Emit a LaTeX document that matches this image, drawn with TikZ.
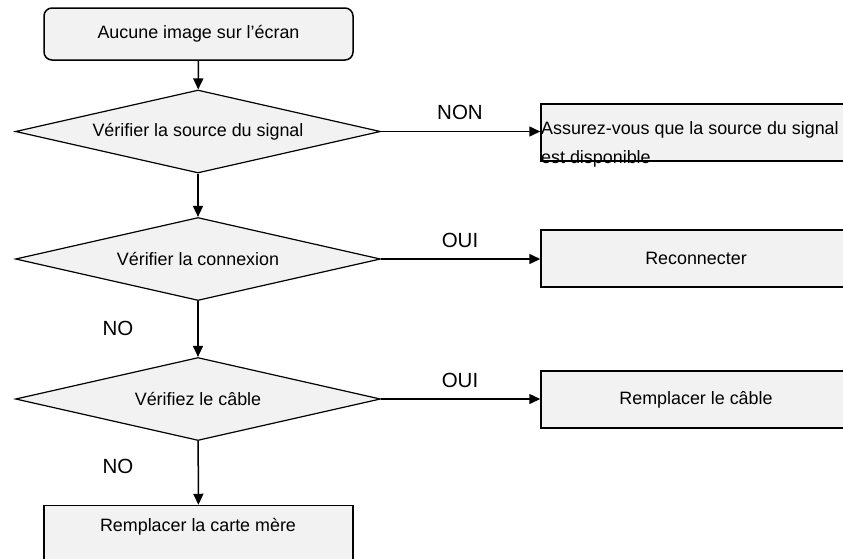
\documentclass[tikz,border=0pt]{standalone}
\usepackage{fontspec}
\setmainfont{Liberation Sans}
\usetikzlibrary{shapes.geometric,arrows.meta}
\definecolor{boxfill}{HTML}{F2F2F2}
\tikzset{
  flowtxt/.style={font=\fontsize{17.9}{29}\selectfont},
  startbox/.style={draw, line width=1.5pt, fill=boxfill, rounded corners=8pt,
    minimum width=309pt, minimum height=52pt, inner sep=0pt, flowtxt},
  actbox/.style={draw, line width=1.5pt, fill=boxfill,
    minimum width=310pt, minimum height=57pt, inner sep=0pt, flowtxt},
  testdia/.style={draw, line width=1.2pt, fill=boxfill, diamond, aspect=4.4,
    minimum width=365pt, minimum height=83pt, inner sep=0pt, flowtxt},
  flowarr/.style={line width=1.5pt, -{Triangle[length=11pt,width=10pt]}},
  anstxt/.style={font=\fontsize{20.5}{24}\selectfont}
}
\begin{document}
\begin{tikzpicture}[x=1pt, y=-1pt]
  \useasboundingbox (0,0) rectangle (843,558);
  \clip (0,0) rectangle (843,558);

  % ---- left column ----
  \node[startbox] (start) at (198.5,34) {Aucune image sur l'écran};
  \node[testdia] (src) at (198,131.5) {Vérifier la source du signal};
  \node[testdia] (conn) at (198,259) {Vérifier la connexion};
  \node[testdia] (cab) at (198,399) {Vérifiez le câble};
  \node[actbox, minimum width=309pt] (mb) at (198.5,534) {};
  \node[flowtxt] (mbtxt) at (198,527) {Remplacer la carte mère};

  % ---- right column ----
  \node[actbox] (avail) at (696,132.5) {};
  \node[flowtxt, anchor=north west, inner sep=0pt, align=left] (availtxt)
    at (541,121) {Assurez-vous que la source du signal\\est disponible};
  \node[actbox] (recon) at (696,258.5) {Reconnecter};
  \node[actbox] (repl) at (696,399.5) {Remplacer le câble};

  % ---- connectors ----
  \draw[flowarr] (start) -- (src);
  \draw[flowarr] (src) -- (conn);
  \draw[flowarr] (conn) -- (cab);
  \draw[flowarr] (cab) -- (mb);
  \draw[flowarr] (src.east) -- (avail.west |- src.east);
  \draw[flowarr] (conn.east) -- (recon.west |- conn.east);
  \draw[flowarr] (cab.east) -- (repl.west |- cab.east);

  % ---- answers ----
  \node[anstxt] (lnon) at (460,112) {NON};
  \node[anstxt] (loui1) at (460,240) {OUI};
  \node[anstxt] (loui2) at (460,380) {OUI};
  \node[anstxt] (lno1) at (118,328) {NO};
  \node[anstxt] (lno2) at (118,466) {NO};
\end{tikzpicture}
\end{document}
